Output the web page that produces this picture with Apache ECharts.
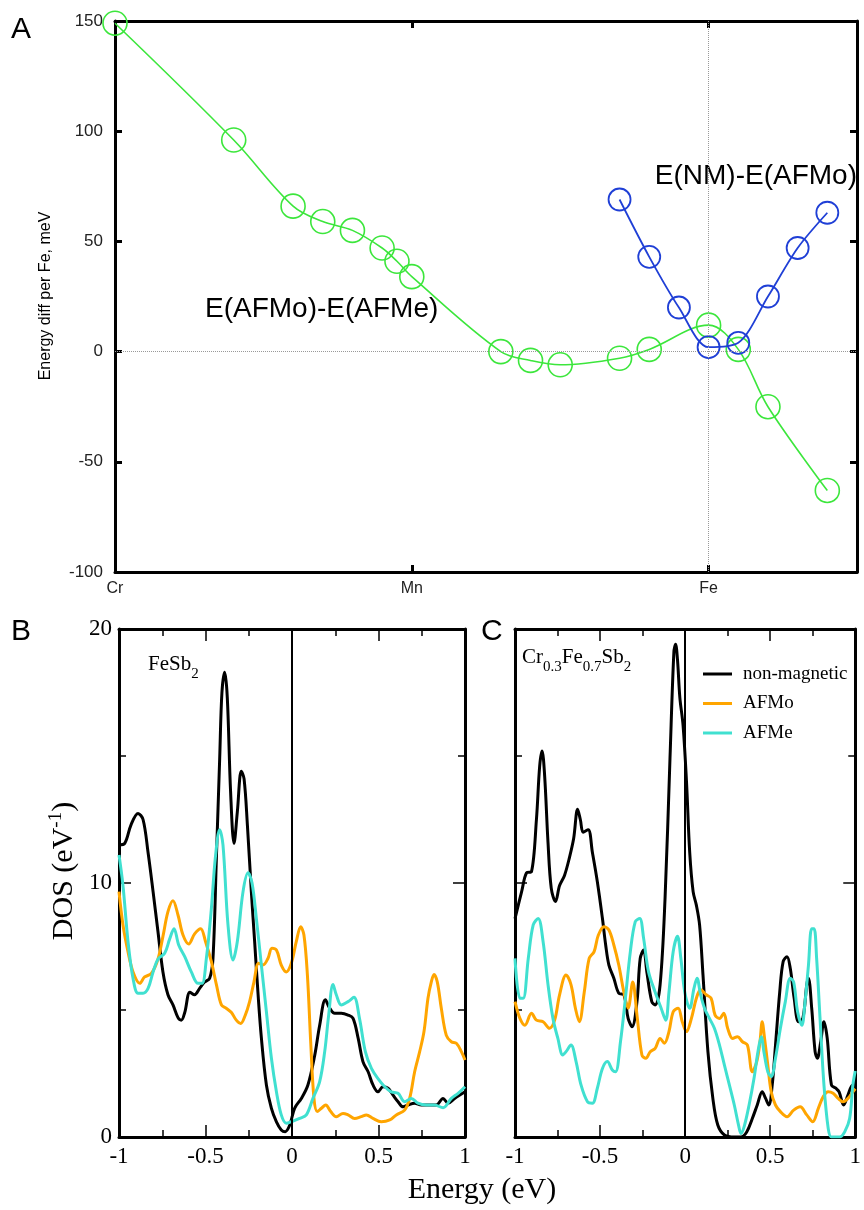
<!DOCTYPE html>
<html>
<head>
<meta charset="utf-8">
<script src="https://cdn.jsdelivr.net/npm/echarts@6/dist/echarts.min.js"></script>
<style>
html,body{margin:0;padding:0;background:#fff;}
#chart{width:864px;height:1210px;}
</style>
</head>
<body>
<div id="chart"></div>
<script>
// ---------- Panel A data ----------
const compositionTicks = ['Cr', 'Mn', 'Fe'];           // labels at x = 0, 1, 2
const afmoAfmeX = [0, 0.4, 0.6, 0.7, 0.8, 0.9, 0.95, 1.0, 1.3, 1.4, 1.5, 1.7, 1.8, 2.0, 2.1, 2.2, 2.4];
const afmoAfmeY = [149, 96, 66, 59, 55, 47, 41, 34, 0, -4, -6, -3, 1, 12, 1, -25, -63];
const nmAfmoX = [1.7, 1.8, 1.9, 2.0, 2.1, 2.2, 2.3, 2.4];
const nmAfmoY = [69, 43, 20, 2, 4, 25, 47, 63];
const yTicksA = [-100, -50, 0, 50, 100, 150];

// ---------- Panel B data (FeSb2) ----------
const seriesNames = ['non-magnetic', 'AFMo', 'AFMe'];
const fesb2NonMag = [[-1,11.5],[-0.967,11.56],[-0.93,12.3],[-0.89,12.74],[-0.861,12.5],[-0.832,11.2],[-0.803,9.66],[-0.775,8.1],[-0.746,6.5],[-0.717,5.6],[-0.688,5.2],[-0.659,4.7],[-0.64,4.6],[-0.62,4.9],[-0.59,5.7],[-0.563,5.6],[-0.534,5.85],[-0.505,6.1],[-0.476,6.25],[-0.457,7.0],[-0.437,11.0],[-0.418,14.9],[-0.405,17.5],[-0.389,18.3],[-0.374,17.3],[-0.355,13.6],[-0.335,11.56],[-0.316,12.8],[-0.293,14.4],[-0.277,14.1],[-0.258,12.3],[-0.235,9.66],[-0.216,7.7],[-0.197,5.7],[-0.177,3.9],[-0.148,2.05],[-0.119,1.13],[-0.09,0.6],[-0.062,0.28],[-0.039,0.21],[-0.013,0.47],[0.015,1.13],[0.054,1.52],[0.092,2.05],[0.131,3.2],[0.16,4.4],[0.193,5.4],[0.218,5.07],[0.247,4.87],[0.285,4.87],[0.324,4.8],[0.353,4.67],[0.382,3.9],[0.41,2.97],[0.44,2.57],[0.468,2.05],[0.497,1.78],[0.526,1.98],[0.555,1.92],[0.584,1.65],[0.613,1.39],[0.642,1.19],[0.67,1.26],[0.709,1.33],[0.748,1.26],[0.796,1.26],[0.834,1.26],[0.873,1.52],[0.902,1.33],[0.94,1.52],[1,1.78]];
const fesb2AFMo = [[-1,9.66],[-0.977,8.35],[-0.948,7.3],[-0.919,6.5],[-0.88,6.05],[-0.852,6.3],[-0.813,6.44],[-0.775,7.0],[-0.746,7.9],[-0.717,8.87],[-0.688,9.3],[-0.659,8.74],[-0.63,7.95],[-0.597,7.6],[-0.563,8.0],[-0.528,8.2],[-0.5,7.7],[-0.466,6.9],[-0.437,6.0],[-0.408,5.2],[-0.38,5.07],[-0.35,4.9],[-0.322,4.6],[-0.297,4.47],[-0.27,4.8],[-0.245,5.33],[-0.22,6.1],[-0.193,6.84],[-0.168,6.77],[-0.139,7.03],[-0.116,7.43],[-0.09,7.36],[-0.062,6.77],[-0.033,6.5],[-0.004,6.84],[0.025,7.7],[0.05,8.28],[0.069,7.95],[0.089,6.38],[0.108,3.75],[0.127,1.52],[0.146,1.0],[0.17,1.13],[0.195,1.26],[0.224,1.0],[0.256,0.8],[0.295,0.93],[0.324,0.87],[0.362,0.73],[0.4,0.8],[0.43,0.87],[0.468,0.73],[0.516,0.6],[0.565,0.67],[0.603,0.87],[0.651,1.06],[0.68,1.52],[0.709,2.57],[0.738,3.36],[0.763,4.15],[0.786,5.46],[0.805,6.1],[0.821,6.4],[0.84,6.1],[0.863,5.07],[0.892,4.0],[0.921,3.75],[0.95,3.69],[0.979,3.36],[1,3.03]];
const fesb2AFMe = [[-1,11.1],[-0.977,9.9],[-0.948,7.7],[-0.919,6.25],[-0.89,5.66],[-0.861,5.66],[-0.832,5.85],[-0.803,6.5],[-0.775,7.0],[-0.736,7.23],[-0.707,7.8],[-0.682,8.2],[-0.655,7.56],[-0.62,7.1],[-0.582,6.5],[-0.543,6.05],[-0.52,6.05],[-0.495,7.03],[-0.466,9.0],[-0.443,11.0],[-0.418,12.1],[-0.399,11.5],[-0.37,8.35],[-0.341,6.97],[-0.316,7.7],[-0.283,9.66],[-0.254,10.4],[-0.231,10.0],[-0.206,8.6],[-0.177,6.77],[-0.148,4.93],[-0.119,3.1],[-0.09,1.78],[-0.062,0.87],[-0.033,0.54],[-0.004,0.6],[0.044,0.73],[0.083,0.87],[0.121,1.52],[0.16,2.18],[0.189,3.36],[0.212,4.8],[0.237,6.0],[0.256,5.6],[0.285,5.2],[0.324,5.33],[0.358,5.5],[0.39,4.67],[0.424,3.36],[0.459,2.7],[0.497,2.3],[0.536,1.98],[0.574,1.78],[0.613,1.72],[0.651,1.39],[0.69,1.52],[0.728,1.33],[0.776,1.26],[0.824,1.26],[0.873,1.15],[0.921,1.52],[0.96,1.72],[1,1.98]];

// ---------- Panel C data (Cr0.3Fe0.7Sb2) ----------
const crfeNonMag = [[-1,8.6],[-0.961,9.66],[-0.932,10.4],[-0.903,10.45],[-0.874,12.5],[-0.855,14.6],[-0.841,15.2],[-0.826,14.25],[-0.806,11.6],[-0.787,9.8],[-0.762,9.27],[-0.738,9.9],[-0.709,10.3],[-0.68,11.0],[-0.655,11.76],[-0.632,12.9],[-0.616,12.5],[-0.599,12.0],[-0.57,12.1],[-0.545,11.2],[-0.516,10.05],[-0.486,8.6],[-0.467,7.56],[-0.448,6.77],[-0.419,6.25],[-0.39,5.66],[-0.36,5.6],[-0.335,4.67],[-0.312,4.34],[-0.283,5.33],[-0.264,7.03],[-0.244,7.36],[-0.225,6.5],[-0.196,5.33],[-0.176,5.2],[-0.147,6.0],[-0.118,9.4],[-0.089,14.9],[-0.066,19.1],[-0.056,19.4],[-0.045,18.8],[-0.031,17.3],[-0.012,16.2],[0.008,14.0],[0.027,11.2],[0.047,9.66],[0.066,9.13],[0.085,8.35],[0.105,6.38],[0.134,3.36],[0.163,1.52],[0.192,0.47],[0.231,0.08],[0.289,0],[0.328,0],[0.362,0.2],[0.395,0.73],[0.424,1.26],[0.453,1.78],[0.473,1.52],[0.492,1.26],[0.512,2.05],[0.531,3.6],[0.556,5.7],[0.576,6.9],[0.599,7.1],[0.618,6.64],[0.641,5.46],[0.667,4.54],[0.692,4.67],[0.715,6.0],[0.725,6.25],[0.744,5.07],[0.764,3.36],[0.777,3.1],[0.797,3.75],[0.816,4.54],[0.835,3.9],[0.86,2.05],[0.886,1.92],[0.905,1.78],[0.932,1.26],[0.957,1.65],[0.986,2.05],[1,2.05]];
const crfeAFMo = [[-1,5.33],[-0.971,4.67],[-0.942,4.4],[-0.903,4.87],[-0.874,4.6],[-0.835,4.54],[-0.797,4.28],[-0.767,4.6],[-0.738,5.6],[-0.7,6.38],[-0.671,6.0],[-0.645,5.07],[-0.622,4.54],[-0.593,5.7],[-0.564,7.03],[-0.535,7.3],[-0.51,7.95],[-0.477,8.28],[-0.448,8.15],[-0.419,7.56],[-0.39,6.77],[-0.36,5.7],[-0.335,5.07],[-0.308,6.1],[-0.283,4.8],[-0.254,3.23],[-0.231,3.1],[-0.205,3.36],[-0.176,3.49],[-0.147,3.88],[-0.122,3.69],[-0.095,4.15],[-0.07,4.93],[-0.041,5.07],[-0.017,4.54],[0.008,4.15],[0.037,4.67],[0.066,5.46],[0.091,5.8],[0.124,5.6],[0.153,5.46],[0.176,4.8],[0.202,4.67],[0.227,4.87],[0.25,4.28],[0.279,3.88],[0.308,3.95],[0.337,3.75],[0.366,3.62],[0.395,2.57],[0.421,2.97],[0.44,3.75],[0.453,4.54],[0.467,3.88],[0.486,2.83],[0.506,1.78],[0.531,1.26],[0.56,1.0],[0.599,0.8],[0.638,1.06],[0.676,1.19],[0.715,0.87],[0.75,0.6],[0.783,1.13],[0.812,1.59],[0.841,1.78],[0.87,1.72],[0.899,1.52],[0.928,1.39],[0.957,1.52],[0.986,1.78],[1,1.9]];
const crfeAFMe = [[-1,7.03],[-0.971,5.46],[-0.952,5.46],[-0.922,7.03],[-0.893,8.35],[-0.864,8.6],[-0.835,7.7],[-0.806,6.0],[-0.777,4.67],[-0.748,3.88],[-0.719,3.23],[-0.7,3.36],[-0.671,3.62],[-0.641,2.97],[-0.612,2.05],[-0.574,1.39],[-0.545,1.33],[-0.516,1.92],[-0.486,2.7],[-0.457,2.97],[-0.428,2.64],[-0.409,2.57],[-0.38,3.75],[-0.351,5.46],[-0.322,7.3],[-0.293,8.48],[-0.267,8.6],[-0.244,7.82],[-0.215,6.5],[-0.176,5.7],[-0.141,5.07],[-0.114,4.6],[-0.095,5.7],[-0.07,7.3],[-0.045,7.9],[-0.025,7.03],[-0.002,5.7],[0.027,5.07],[0.052,5.85],[0.07,6.25],[0.091,5.6],[0.114,5.07],[0.143,4.67],[0.172,4.28],[0.202,3.62],[0.231,2.83],[0.26,2.05],[0.289,1.26],[0.314,0.47],[0.328,0.14],[0.347,0.41],[0.376,1.26],[0.405,2.31],[0.428,3.36],[0.448,3.95],[0.463,3.36],[0.486,2.57],[0.506,2.38],[0.531,3.1],[0.56,4.28],[0.589,5.33],[0.618,6.25],[0.638,6.1],[0.661,4.93],[0.686,4.4],[0.705,5.33],[0.725,6.77],[0.744,8.2],[0.758,8.2],[0.773,7.03],[0.793,4.67],[0.816,2.05],[0.841,0.34],[0.86,0],[0.909,0],[0.938,0.2],[0.967,0.73],[0.986,2.05],[1,2.6]];

// ---------- helpers ----------
const SANS = '"Liberation Sans", Arial, sans-serif';
const SERIF = '"Liberation Serif", "Times New Roman", serif';
const mctx = document.createElement('canvas').getContext('2d');
function textW(t, size, fam) { mctx.font = size + 'px ' + fam; return mctx.measureText(t).width; }
function txt(x, y, text, size, fam, align, valign, extra) {
  return Object.assign({
    type: 'text', x: x, y: y, silent: true,
    style: { text: text, font: size + 'px ' + fam, fill: '#000',
      align: align || 'left', verticalAlign: valign || 'middle',
      textAlign: align || 'left', textVerticalAlign: valign || 'middle' }
  }, extra || {});
}
// pieces: [text, size, dy]; pieces aligned on their bottom edge (approx. baseline + descent)
function run(pieces, fam) {
  let cx = 0; const out = [];
  pieces.forEach(p => {
    const descent = p[1] * 0.216;
    out.push(txt(cx, p[2] + descent, p[0], p[1], fam, 'left', 'bottom'));
    cx += textW(p[0], p[1], fam);
  });
  return { children: out, width: cx };
}

const GREEN = '#3ce63c', BLUE = '#1f3fd6';
const BLACK = '#000000', ORANGE = '#ffa500', TURQ = '#40e0d0';

function xyPairs(xs, ys) { return xs.map((x, i) => [x, ys[i]]); }

// ---------- axes ----------
function axisA(kind, pos, show) {
  const base = {
    gridIndex: 0, type: 'value', position: pos,
    axisLine: { show: true, onZero: false, lineStyle: { color: '#000', width: 3 } },
    axisTick: { show: true, inside: true, length: 7, lineStyle: { color: '#000', width: 3 } },
    splitLine: { show: false },
    axisLabel: { show: show, color: '#222', fontFamily: SANS, fontSize: kind === 'x' ? 16 : 17, margin: kind === 'x' ? 9 : 12 }
  };
  if (kind === 'x') {
    Object.assign(base, { min: 0, max: 2.5, interval: 1 });
    base.axisLabel.formatter = v => (Number.isInteger(v) && compositionTicks[v]) ? compositionTicks[v] : '';
  } else {
    Object.assign(base, { min: yTicksA[0], max: yTicksA[yTicksA.length - 1], interval: 50 });
  }
  return base;
}
function axisDOS(grid, kind, pos, show) {
  const base = {
    gridIndex: grid, type: 'value', position: pos,
    axisLine: { show: true, onZero: false, lineStyle: { color: '#000', width: 3 } },
    axisTick: { show: true, inside: true, length: 12, lineStyle: { color: '#000', width: 1.5 } },
    minorTick: { show: true, splitNumber: 2, length: 7, lineStyle: { color: '#000', width: 1.5 } },
    splitLine: { show: false }, minorSplitLine: { show: false },
    axisLabel: { show: show, color: '#000', fontFamily: SERIF, fontSize: 23, margin: kind === 'x' ? 8 : 7 }
  };
  if (kind === 'x') Object.assign(base, { min: -1, max: 1, interval: 0.5 });
  else Object.assign(base, { min: 0, max: 20, interval: 10 });
  return base;
}

function dosSeries(name, data, color, xi, yi, withZero) {
  const s = {
    name: name, type: 'line', xAxisIndex: xi, yAxisIndex: yi, data: data,
    symbol: 'none', showSymbol: false, smooth: 0.35, clip: true,
    lineStyle: { color: color, width: 3 }, itemStyle: { color: color }, z: 3
  };
  if (withZero) s.markLine = { silent: true, symbol: 'none', label: { show: false },
    lineStyle: { color: '#000', width: 2, type: 'solid' }, data: [{ xAxis: 0 }], animation: false };
  return s;
}

// ---------- text graphics ----------
const feRun = run([['FeSb', 21, 0], ['2', 15, 8]], SERIF);
const crRun = run([['Cr', 21, 0], ['0.3', 15, 8], ['Fe', 21, 0], ['0.7', 15, 8], ['Sb', 21, 0], ['2', 15, 8]], SERIF);
const dosRun = run([['DOS (eV', 30, 0], ['-1', 19, -12], [')', 30, 0]], SERIF);

const graphics = [
  txt(11, 30, 'A', 30, SANS),
  txt(11, 632, 'B', 30, SANS),
  txt(481, 632, 'C', 30, SANS),
  txt(205, 309, 'E(AFMo)-E(AFMe)', 28, SANS),
  txt(857, 176, 'E(NM)-E(AFMo)', 28, SANS, 'right'),
  txt(46, 296, 'Energy diff per Fe, meV', 16, SANS, 'center', 'middle', { rotation: Math.PI / 2 }),
  txt(482, 1190, 'Energy (eV)', 30, SERIF, 'center', 'middle'),
  { type: 'group', x: 148, y: 670, children: feRun.children },
  { type: 'group', x: 522, y: 663, children: crRun.children },
  // rotated group: local +x points up the page, baseline ends up at screen x = 73
  { type: 'group', x: 73, y: 871 + dosRun.width / 2, rotation: Math.PI / 2, children: dosRun.children }
];

const option = {
  animation: false,
  backgroundColor: '#fff',
  grid: [
    { left: 115, top: 21, width: 742, height: 551, containLabel: false },
    { left: 119, top: 629, width: 346, height: 508, containLabel: false },
    { left: 515, top: 629, width: 344, height: 508, containLabel: false }
  ],
  xAxis: [
    axisA('x', 'bottom', true), axisA('x', 'top', false),
    axisDOS(1, 'x', 'bottom', true), axisDOS(1, 'x', 'top', false),
    axisDOS(2, 'x', 'bottom', true), axisDOS(2, 'x', 'top', false)
  ],
  yAxis: [
    axisA('y', 'left', true), axisA('y', 'right', false),
    axisDOS(1, 'y', 'left', true), axisDOS(1, 'y', 'right', false),
    axisDOS(2, 'y', 'left', false), axisDOS(2, 'y', 'right', false)
  ],
  legend: {
    orient: 'vertical', left: 698, top: 659, itemWidth: 29, itemHeight: 3, itemGap: 9.5,
    data: seriesNames.map(n => ({ name: n, icon: 'rect' })), selectedMode: false,
    textStyle: { fontFamily: SERIF, fontSize: 19, color: '#000', lineHeight: 20, padding: [0, 0, 0, 6] }
  },
  series: [
    {
      name: 'E(AFMo)-E(AFMe)', type: 'line', xAxisIndex: 0, yAxisIndex: 0,
      data: xyPairs(afmoAfmeX, afmoAfmeY), smooth: 0.35,
      symbol: 'circle', symbolSize: 24, showSymbol: true,
      lineStyle: { color: GREEN, width: 1.6 },
      itemStyle: { color: 'rgba(0,0,0,0)', borderColor: GREEN, borderWidth: 1.6 },
      markLine: { silent: true, symbol: 'none', label: { show: false }, animation: false,
        lineStyle: { color: '#999', width: 1, type: 'dotted' },
        data: [{ yAxis: 0 }, { xAxis: 2 }] },
      z: 3
    },
    {
      name: 'E(NM)-E(AFMo)', type: 'line', xAxisIndex: 0, yAxisIndex: 0,
      data: xyPairs(nmAfmoX, nmAfmoY), smooth: 0.3,
      symbol: 'circle', symbolSize: 22, showSymbol: true,
      lineStyle: { color: BLUE, width: 1.8 },
      itemStyle: { color: 'rgba(0,0,0,0)', borderColor: BLUE, borderWidth: 1.8 },
      z: 4
    },
    dosSeries(seriesNames[0], fesb2NonMag, BLACK, 2, 2, true),
    dosSeries(seriesNames[1], fesb2AFMo, ORANGE, 2, 2, false),
    dosSeries(seriesNames[2], fesb2AFMe, TURQ, 2, 2, false),
    dosSeries(seriesNames[0], crfeNonMag, BLACK, 4, 4, true),
    dosSeries(seriesNames[1], crfeAFMo, ORANGE, 4, 4, false),
    dosSeries(seriesNames[2], crfeAFMe, TURQ, 4, 4, false)
  ],
  graphic: { elements: graphics }
};

const chart = echarts.init(document.getElementById('chart'), null, { renderer: 'canvas' });
chart.setOption(option);
</script>
</body>
</html>
